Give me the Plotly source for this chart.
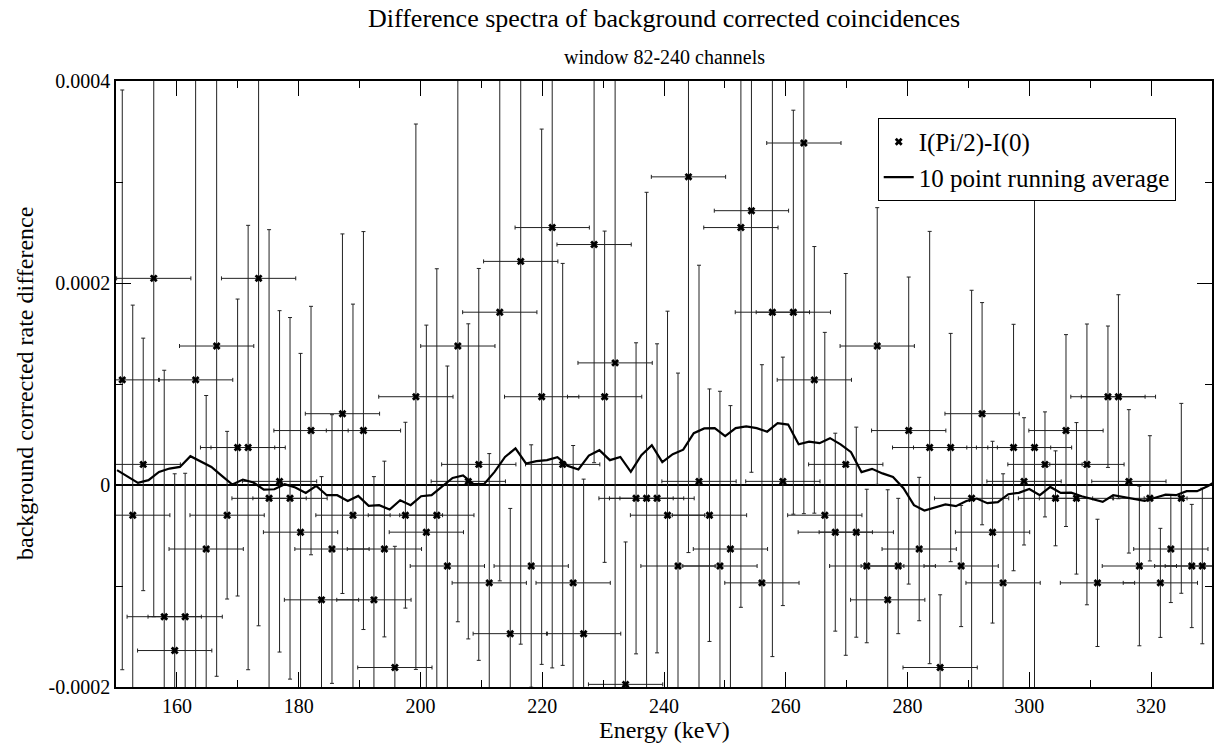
import plotly.graph_objects as go

# ---------------- data ----------------
energy = [151.03, 152.75, 154.47, 156.20, 157.92, 159.64, 161.36, 163.08, 164.81, 166.53,
          168.25, 169.97, 171.70, 173.42, 175.14, 176.86, 178.58, 180.31, 182.03, 183.75,
          185.47, 187.19, 188.92, 190.64, 192.36, 194.08, 195.80, 197.53, 199.25, 200.97,
          202.69, 204.42, 206.14, 207.86, 209.58, 211.30, 213.03, 214.75, 216.47, 218.19,
          219.91, 221.64, 223.36, 225.08, 226.80, 228.52, 230.25, 231.97, 233.69, 235.41,
          237.14, 238.86, 240.58, 242.30, 244.02, 245.75, 247.47, 249.19, 250.91, 252.63,
          254.36, 256.08, 257.80, 259.52, 261.24, 262.97, 264.69, 266.41, 268.13, 269.85,
          271.58, 273.30, 275.02, 276.74, 278.47, 280.19, 281.91, 283.63, 285.35, 287.08,
          288.80, 290.52, 292.24, 293.96, 295.69, 297.41, 299.13, 300.85, 302.57, 304.30,
          306.02, 307.74, 309.46, 311.19, 312.91, 314.63, 316.35, 318.07, 319.80, 321.52,
          323.24, 324.96, 326.68, 328.41]

rate_diff = [104.1e-6, -29.9e-6, 20.4e-6, 204.6e-6, -130.4e-6, -163.9e-6, -130.4e-6, 104.1e-6, -63.4e-6, 137.6e-6,
             -29.9e-6, 37.1e-6, 37.1e-6, 204.6e-6, -13.2e-6, 3.6e-6, -13.2e-6, -46.7e-6, 53.9e-6, -113.7e-6,
             -63.4e-6, 70.6e-6, -29.9e-6, 53.9e-6, -113.7e-6, -63.4e-6, -180.7e-6, -29.9e-6, 87.4e-6, -46.7e-6,
             -29.9e-6, -80.2e-6, 137.6e-6, 3.6e-6, 20.4e-6, -96.9e-6, 171.1e-6, -147.2e-6, 221.4e-6, -80.2e-6,
             87.4e-6, 254.9e-6, 20.4e-6, -96.9e-6, -147.2e-6, 238.1e-6, 87.4e-6, 120.9e-6, -197.4e-6, -13.2e-6,
             -13.2e-6, -13.2e-6, -29.9e-6, -80.2e-6, 305.1e-6, 3.6e-6, -29.9e-6, -80.2e-6, -63.4e-6, 254.9e-6,
             271.6e-6, -96.9e-6, 171.1e-6, 3.6e-6, 171.1e-6, 338.6e-6, 104.1e-6, -29.9e-6, -46.7e-6, 20.4e-6,
             -46.7e-6, -80.2e-6, 137.6e-6, -113.7e-6, -80.2e-6, 53.9e-6, -63.4e-6, 37.1e-6, -180.7e-6, 37.1e-6,
             -80.2e-6, -13.2e-6, 70.6e-6, -46.7e-6, -96.9e-6, 37.1e-6, 3.6e-6, 37.1e-6, 20.4e-6, -13.2e-6,
             53.9e-6, -13.2e-6, 20.4e-6, -96.9e-6, 87.4e-6, 87.4e-6, 3.6e-6, -80.2e-6, -13.2e-6, -96.9e-6,
             -63.4e-6, -13.2e-6, -80.2e-6, -80.2e-6]

rate_diff_err = [287e-6, 208e-6, 125e-6, 335e-6, 244e-6, 175e-6, 142e-6, 327e-6, 152e-6, 327e-6,
                 83e-6, 147e-6, 220e-6, 344e-6, 266e-6, 169e-6, 179e-6, 177e-6, 123e-6, 122e-6,
                 133e-6, 178e-6, 209e-6, 197e-6, 122e-6, 87e-6, 120e-6, 92e-6, 270e-6, 205e-6,
                 244e-6, 198e-6, 273e-6, 156e-6, 194e-6, 128e-6, 266e-6, 124e-6, 379e-6, 120e-6,
                 265e-6, 436e-6, 199e-6, 136e-6, 153e-6, 216e-6, 164e-6, 337e-6, 141e-6, 154e-6,
                 303e-6, 153e-6, 202e-6, 191e-6, 372e-6, 214e-6, 125e-6, 173e-6, 142e-6, 376e-6,
                 259e-6, 216e-6, 341e-6, 123e-6, 200e-6, 367e-6, 132e-6, 181e-6, 98e-6, 189e-6,
                 104e-6, 76e-6, 137e-6, 109e-6, 67e-6, 152e-6, 71e-6, 214e-6, 72e-6, 113e-6,
                 60e-6, 206e-6, 110e-6, 90e-6, 108e-6, 122e-6, 63e-6, 256e-6, 52e-6, 47e-6,
                 95e-6, 75e-6, 139e-6, 63e-6, 70e-6, 101e-6, 71e-6, 79e-6, 62e-6, 54e-6,
                 53e-6, 94e-6, 61e-6, 77e-6]

energy_err = 6.1  # keV, horizontal error bar half-width

avg_energy = [150.17, 151.89, 153.61, 155.34, 157.06, 158.78, 160.50, 162.22, 163.95, 165.67,
              167.39, 169.11, 170.83, 172.56, 174.28, 176.00, 177.72, 179.45, 181.17, 182.89,
              184.61, 186.33, 188.06, 189.78, 191.50, 193.22, 194.94, 196.67, 198.39, 200.11,
              201.83, 203.56, 205.28, 207.00, 208.72, 210.44, 212.17, 213.89, 215.61, 217.33,
              219.05, 220.78, 222.50, 224.22, 225.94, 227.66, 229.39, 231.11, 232.83, 234.55,
              236.28, 238.00, 239.72, 241.44, 243.16, 244.89, 246.61, 248.33, 250.05, 251.77,
              253.50, 255.22, 256.94, 258.66, 260.39, 262.11, 263.83, 265.55, 267.27, 269.00,
              270.72, 272.44, 274.16, 275.88, 277.61, 279.33, 281.05, 282.77, 284.49, 286.22,
              287.94, 289.66, 291.38, 293.11, 294.83, 296.55, 298.27, 299.99, 301.72, 303.44,
              305.16, 306.88, 308.60, 310.33, 312.05, 313.77, 315.49, 317.21, 318.94, 320.66,
              322.38, 324.10, 325.83, 327.55, 329.27, 330.99]

avg_diff = [14.7e-6, 8.2e-6, 2.1e-6, 4.8e-6, 13.0e-6, 16.3e-6, 17.9e-6, 28.5e-6, 22.9e-6, 17.9e-6,
            9.0e-6, 0.5e-6, 5.4e-6, 2.5e-6, -4.5e-6, -4.2e-6, 0.8e-6, -2.5e-6, -7.8e-6, -0.9e-6,
            -10.1e-6, -10.1e-6, -15.8e-6, -10.8e-6, -20.7e-6, -20.0e-6, -24.3e-6, -15.1e-6, -20.0e-6, -11.1e-6,
            -10.1e-6, -1.9e-6, 7.0e-6, 9.4e-6, 0.8e-6, 0.8e-6, 13.0e-6, 27.8e-6, 36.2e-6, 21.3e-6,
            23.6e-6, 24.6e-6, 27.5e-6, 18.9e-6, 15.4e-6, 29.2e-6, 34.5e-6, 24.6e-6, 27.8e-6, 13.0e-6,
            29.5e-6, 39.4e-6, 22.6e-6, 30.5e-6, 35.0e-6, 51.3e-6, 56.0e-6, 56.3e-6, 48.3e-6, 56.3e-6,
            58.0e-6, 56.3e-6, 52.8e-6, 61.2e-6, 59.8e-6, 40.4e-6, 43.0e-6, 41.4e-6, 46.4e-6, 40.2e-6,
            32.5e-6, 12.7e-6, 16.0e-6, 11.5e-6, 8.0e-6, -3.2e-6, -20.0e-6, -25.3e-6, -22.0e-6, -19.3e-6,
            -21.0e-6, -15.8e-6, -13.4e-6, -18.0e-6, -17.0e-6, -9.1e-6, -7.8e-6, -3.9e-6, -10.1e-6, -1.9e-6,
            -7.8e-6, -7.6e-6, -11.1e-6, -14.1e-6, -16.7e-6, -10.1e-6, -11.8e-6, -14.1e-6, -15.6e-6, -12.6e-6,
            -9.6e-6, -10.1e-6, -6.1e-6, -6.1e-6, -1.2e-6, 4.8e-6]

y_tickvals = [-0.0002, 0.0, 0.0002, 0.0004]
y_ticktext = ["-0.0002", "0", "0.0002", "0.0004"]

# ---------------- figure ----------------
FONT = "Liberation Serif, Times New Roman, serif"

fig = go.Figure()

fig.add_trace(go.Scatter(
    x=energy, y=rate_diff, mode="markers", name="I(Pi/2)-I(0)",
    marker=dict(symbol="x", size=7, color="black", line=dict(width=0)),
    error_y=dict(type="data", array=rate_diff_err, visible=True,
                 color="#222222", thickness=1, width=2),
    error_x=dict(type="constant", value=energy_err, visible=True,
                 color="#222222", thickness=1, width=2),
))

fig.add_trace(go.Scatter(
    x=avg_energy, y=avg_diff, mode="lines", name="10 point running average",
    line=dict(color="black", width=2.2),
))

axis_common = dict(
    showline=True, linecolor="black", linewidth=1.5, mirror="allticks",
    ticks="inside", ticklen=15, tickwidth=1, tickcolor="black",
    showgrid=False,
    tickfont=dict(family=FONT, size=20, color="black"),
)

fig.update_xaxes(
    range=[150, 330], tick0=0, dtick=20, zeroline=False,
    minor=dict(dtick=10, ticks="inside", ticklen=7, tickwidth=1, tickcolor="black", showgrid=False),
    **axis_common,
)
fig.update_yaxes(
    range=[-0.0002, 0.0004], tickmode="array", tickvals=y_tickvals, ticktext=y_ticktext,
    zeroline=True, zerolinecolor="black", zerolinewidth=2,
    minor=dict(tick0=0, dtick=0.0001, ticks="inside", ticklen=7, tickwidth=1, tickcolor="black", showgrid=False),
    **axis_common,
)

annotations = [
    dict(text="Difference spectra of background corrected coincidences", xref="paper", yref="paper",
         x=0.5, y=1, xanchor="center", yanchor="middle", yshift=63, showarrow=False,
         font=dict(family=FONT, size=26, color="black")),
    dict(text="window 82-240 channels", xref="paper", yref="paper",
         x=0.5, y=1, xanchor="center", yanchor="middle", yshift=24, showarrow=False,
         font=dict(family=FONT, size=20, color="black")),
    dict(text="Energy (keV)", xref="paper", yref="paper",
         x=0.5, y=0, xanchor="center", yanchor="middle", yshift=-43, showarrow=False,
         font=dict(family=FONT, size=24, color="black")),
    dict(text="background corrected rate difference", xref="paper", yref="paper",
         x=0, y=0.5, xanchor="center", yanchor="middle", xshift=-91, textangle=-90, showarrow=False,
         font=dict(family=FONT, size=24, color="black")),
]

fig.update_layout(
    width=1215, height=744, autosize=False,
    margin=dict(l=116, r=1, t=81, b=57, pad=0),
    paper_bgcolor="white", plot_bgcolor="white",
    font=dict(family=FONT, color="black"),
    showlegend=True,
    legend=dict(x=0.695, y=0.939, xanchor="left", yanchor="top",
                bgcolor="white", bordercolor="black", borderwidth=1,
                font=dict(family=FONT, size=25, color="black"),
                tracegroupgap=0),
    annotations=annotations,
)

fig.write_html("out.html", config={"displayModeBar": False})
